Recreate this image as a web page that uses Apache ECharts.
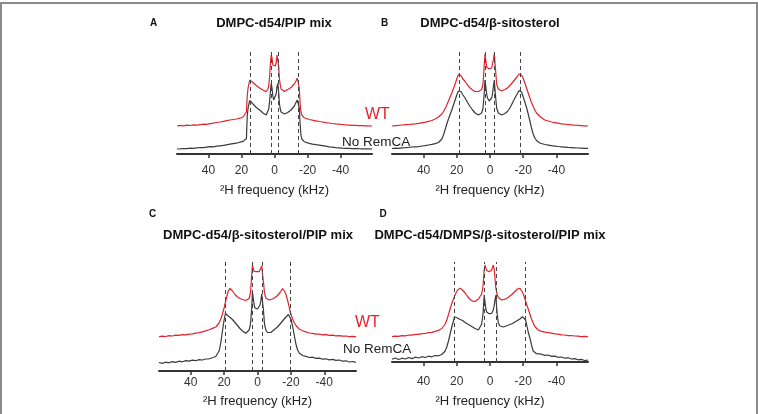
<!DOCTYPE html>
<html>
<head>
<meta charset="utf-8">
<script src="https://cdn.jsdelivr.net/npm/echarts@6/dist/echarts.min.js"></script>
<style>
  html, body { margin: 0; padding: 0; background: #fff; }
  #main { width: 758px; height: 414px; }
</style>
</head>
<body>
<div id="main"></div>
<script>
// 2H NMR spectra, WT vs No RemCA, four lipid mixes (A-D)
var ticks = [-40, -20, 0, 20, 40]

// panel A: DMPC-d54/PIP mix
var freqA = [59, 57, 55, 53, 51, 49, 47, 45, 43, 41, 39, 37, 35, 33, 31, 29, 27, 25, 23, 21,
  19, 18, 17, 16.5, 16, 15.5, 15, 14.6, 14, 13, 12, 11, 10, 9, 8, 7, 6, 5, 4, 3.5,
  3, 2.5, 2, 1.5, 1, 0.5, 0, -0.5, -1, -1.5, -2, -2.5, -3, -3.5, -4, -5, -6, -7, -8, -9,
  -10, -11, -12, -13, -13.8, -14.4, -15, -15.5, -16, -16.5, -17, -18, -19, -21, -23, -25, -27, -29, -31, -33,
  -35, -37, -39, -41, -43, -45, -47, -49, -51, -53, -55, -57, -59]
var noRemA = [5, 5.2, 5.5, 5.3, 5.8, 5.6, 6.2, 6.5, 6.4, 6.9, 7.3, 7.2, 7.8, 8.2, 8.6, 9.2, 9.8, 10.3, 10.8, 11.8,
  12.6, 13.5, 15.5, 38, 46, 50, 53.5, 55, 53, 50, 48, 46.5, 45, 44, 42.5, 41, 39.5, 39, 41, 45,
  52, 62, 70.5, 66, 58, 54, 53, 54, 60, 67, 70.5, 62, 50, 45, 42, 40.5, 40, 40.5, 41.5, 43,
  44, 45.5, 48, 51.5, 54, 52, 46, 30, 19, 15, 13.5, 12.3, 11.5, 10.6, 9.8, 9.3, 8.9, 8.4, 7.8, 7.2,
  6.8, 6.4, 6.2, 5.9, 5.7, 5.6, 5.4, 5.5, 5.3, 5.2, 5.1, 5.2, 5]
var wtA = [28, 28.6, 28.2, 28.8, 28.5, 29.2, 28.8, 29.4, 29.9, 29.6, 30.4, 30.8, 31.5, 32, 32.6, 33.3, 34, 34.5, 35, 35.8,
  37, 38.5, 42, 58, 66, 70, 74, 76, 74, 71.5, 70, 68.5, 67, 66, 65, 64, 62.5, 62.3, 65, 68,
  76, 90, 99, 96, 89, 88, 88.5, 88, 91, 99, 100, 88, 75, 69, 65, 63, 62.5, 63.3, 64.5, 65.5,
  66.5, 68, 70, 73, 76, 74, 66, 50, 42, 39, 37.5, 36.2, 35.5, 34.5, 33.8, 33.2, 32.5, 32, 31.4, 31,
  30.5, 30.1, 29.8, 29.5, 29.1, 28.9, 28.6, 28.7, 28.3, 28.4, 28.1, 28.2, 28]
var dashA = [14.6, 2, -2, -14.6]

// panel B: DMPC-d54/β-sitosterol
var freqB = [59, 57, 55, 53, 51, 49, 47, 45, 43, 41, 39, 37, 35, 33, 31, 30, 29, 28, 27, 26,
  25, 24, 23, 22, 21, 20, 19, 18.3, 17.5, 16.5, 15, 13.5, 12, 10.5, 9, 8, 7, 6, 5, 4.2,
  3.5, 3, 2.5, 2, 1.5, 1, 0.5, 0, -0.5, -1, -1.5, -2, -2.6, -3.2, -4, -5, -6, -7, -8, -9,
  -10.5, -12, -13.5, -15, -16.5, -17.5, -18.2, -19, -20, -21, -22, -23, -24, -25, -26, -27, -28, -29, -30, -31,
  -33, -35, -37, -39, -41, -43, -45, -47, -49, -51, -53, -55, -57, -59]
var noRemB = [5.5, 5.8, 5.6, 6.1, 6.3, 6.6, 7, 7.2, 7.4, 8, 8.4, 9, 9.6, 10.4, 11.5, 12.8, 15, 19, 24.5, 30,
  35, 39.5, 44, 49, 54, 59, 63, 64.5, 62.5, 59.5, 56, 51.5, 47.5, 44, 41, 39.5, 39, 39.5, 41, 46,
  60, 74, 67, 60, 56, 54, 53, 53, 54, 56, 60, 67, 74, 60, 46, 41, 39.5, 39, 39.5, 40.5,
  42.5, 46, 51, 56, 60.5, 63.5, 64.5, 62, 57, 52, 46.5, 40, 33, 26, 20, 16, 13.5, 12, 11, 10.3,
  9.5, 8.9, 8.3, 7.9, 7.5, 7.2, 6.9, 6.6, 6.4, 6.2, 6, 5.9, 5.7, 5.6]
var wtB = [28, 28.4, 28.6, 29, 29.3, 29.5, 29.9, 30.2, 30.6, 31.2, 31.8, 32.6, 33.5, 35, 37, 38.5, 40, 42.5, 45.5, 49,
  53, 57, 61, 65.5, 70, 75, 79.5, 80.7, 78.5, 75.5, 72.5, 69, 66, 64, 62.5, 62, 62.5, 63, 64.5, 70,
  88, 100, 93, 87, 85.5, 85, 85, 85.5, 85.5, 86, 88, 94, 100.5, 87, 70, 65, 63.5, 63, 63.5, 64.5,
  66, 68.5, 71.5, 74.5, 77.5, 80, 80.7, 79, 75.5, 71, 66, 61, 56, 51.5, 47.5, 44, 41, 39, 37.5, 36,
  34, 33, 32, 31.4, 30.8, 30.2, 29.8, 29.5, 29.1, 28.8, 28.6, 28.4, 28.2, 28]
var dashB = [18.3, 3, -2.6, -18.2]

// panel C: DMPC-d54/β-sitosterol/PIP mix
var freqC = [59, 57, 55, 53, 51, 49, 47, 45, 43, 41, 39, 37, 35, 33, 31, 29, 27, 25, 24, 23,
  22, 21, 20, 19.2, 18.5, 17.5, 16.5, 15, 13.5, 12, 10.5, 9, 8, 7, 6, 5, 4.2, 3.5, 3, 2.5,
  2, 1.5, 1, 0.5, 0, -0.5, -1, -1.5, -2, -2.5, -3, -3.5, -4.2, -5, -6, -7, -8, -9, -10.5, -12,
  -13.5, -15, -16.5, -17.5, -18.5, -19.2, -20, -21, -22, -23, -24, -25, -27, -29, -31, -33, -35, -37, -39, -41,
  -43, -45, -47, -49, -51, -53, -55, -57, -59]
var noRemC = [8.5, 7.6, 8.8, 8.2, 9.4, 8.6, 9.8, 9.2, 10.4, 9.9, 10.9, 10.3, 11.4, 11, 12, 12.2, 13.2, 14.5, 16, 20,
  28, 40, 51, 57.5, 57, 55, 53.5, 51.5, 48.5, 45.5, 42.5, 40, 38.5, 37.8, 38.5, 41, 47, 62, 79, 72,
  66, 63, 62, 62, 62, 62.5, 63.5, 66, 70, 77, 79, 62, 47, 41, 38.5, 37.8, 38.5, 40, 42, 44,
  47, 50, 53, 55, 56.5, 56, 52, 45, 36, 27, 21, 18, 15.5, 14.6, 13.5, 13.8, 12.6, 12.9, 11.8, 12.2,
  11.1, 11.6, 10.6, 11, 9.8, 10.2, 9, 9.5, 8.6]
var wtC = [34.3, 34.9, 34.5, 35.3, 35, 35.8, 35.6, 36.3, 36.1, 36.9, 37.1, 37.9, 38.3, 39.2, 40.1, 41.2, 42.6, 44, 45.5, 48,
  52, 57, 63, 69, 74, 80, 82.7, 80, 76.5, 74, 72.5, 71.5, 71, 70.5, 71, 72.5, 78, 95, 106, 102,
  99.5, 99, 99.5, 99.3, 99, 99.5, 99.3, 99.5, 101, 105, 103, 90, 78, 73, 71.5, 71, 71.5, 72, 73.5, 75.5,
  78.5, 82.5, 79, 74, 67.5, 62, 57, 52, 48.5, 45.5, 43.5, 42, 40.3, 39.1, 38, 37.6, 36.9, 37, 36.2, 36.4,
  35.7, 35.9, 35.2, 35.4, 34.8, 35, 34.4, 34.6, 34.3]
var dashC = [19.5, 3, -2.7, -19.5]

// panel D: DMPC-d54/DMPS/β-sitosterol/PIP mix
var freqD = [59, 57, 55, 53, 51, 49, 47, 45, 43, 41, 39, 37, 35, 33, 31, 29, 28, 27, 26, 25,
  24, 23, 22, 21.4, 20.5, 19.5, 18, 16.5, 15, 13.5, 12, 10.5, 9, 8, 7, 6, 5, 4.2, 3.5, 3,
  2.5, 2, 1.5, 1, 0.5, 0, -0.5, -1, -1.5, -2, -2.5, -3, -3.5, -4.2, -5, -6, -7, -8, -9, -10.5,
  -12, -13.5, -15, -16.5, -18, -19.5, -20.5, -21.4, -22, -23, -24, -25, -26, -27, -28, -29, -31, -33, -35, -37,
  -39, -41, -43, -45, -47, -49, -51, -53, -55, -57, -59]
var noRemD = [2.7, 4, 2.5, 3.8, 3, 4.5, 3.4, 4.8, 4, 5.3, 4.5, 5.8, 5.2, 6.5, 6.2, 7.5, 8.5, 11, 15, 21,
  28, 35, 41, 45, 45.5, 44, 42.5, 41.5, 39.5, 38, 36.5, 35, 33.5, 32.5, 32, 33.5, 38, 48, 67, 60,
  53, 50, 48.7, 48.5, 48.3, 48.5, 48.3, 48.7, 50, 52, 56, 62, 67, 50, 39, 36, 35.3, 35, 35.5, 36.5,
  37.5, 38.5, 40, 41.5, 43, 45.3, 45, 42, 38, 30, 24, 17, 11, 9, 8.3, 7.5, 7.8, 6.6, 7, 5.6,
  5.9, 4.7, 5, 3.8, 4.2, 3, 3.4, 2.2, 2.6, 1.5, 1.8]
var wtD = [25.3, 25.9, 25.6, 26.4, 26.2, 27, 26.9, 27.7, 27.6, 28.4, 28.5, 29.3, 29.6, 30.6, 31.6, 33.5, 35, 38, 42, 47.5,
  53, 58.5, 63, 65.5, 69, 72, 73.7, 72, 69, 65.5, 62.5, 60.8, 60.5, 61.5, 63, 65, 68, 76, 92, 97,
  94, 91.5, 90.5, 90.3, 90.3, 90.5, 91, 92, 94.5, 97, 93, 84, 74, 68, 64.5, 62.5, 62, 62, 62.8, 64,
  66, 68, 70.5, 73, 73.7, 70, 66, 61, 58, 53, 48, 43, 39, 35.5, 33.5, 32, 30.6, 29.9, 29.3, 28.8,
  28.1, 27.9, 27.2, 27, 26.4, 26.5, 26, 25.8, 25.4, 25.6, 25.3]
var dashD = [21.4, 3.5, -3.5, -21.4]

var titles = ['DMPC-d54/PIP mix', 'DMPC-d54/β-sitosterol', 'DMPC-d54/β-sitosterol/PIP mix', 'DMPC-d54/DMPS/β-sitosterol/PIP mix']
var letters = ['A', 'B', 'C', 'D']

var font = "'Liberation Sans', Arial, sans-serif"
var red = '#e3232b'
var black = '#3a3a3a'

function pts (freq, vals) {
  return freq.map(function (f, i) { return [f, vals[i]] })
}

// panel boxes in px: left, right, axis line y, label margin, name gap
var panels = [
  { left: 177, right: 386, axisY: 154, margin: 11, nameGap: 30, dash: dashA, dashTop: 105, freq: freqA, wt: wtA, no: noRemA },
  { left: 392, right: 170, axisY: 154, margin: 11, nameGap: 30, dash: dashB, dashTop: 105, freq: freqB, wt: wtB, no: noRemB },
  { left: 159, right: 402, axisY: 371, margin: 6, nameGap: 24, dash: dashC, dashTop: 109, freq: freqC, wt: wtC, no: noRemC },
  { left: 392, right: 170, axisY: 362, margin: 14, nameGap: 33, dash: dashD, dashTop: 100, freq: freqD, wt: wtD, no: noRemD }
]

var grid = [], xAxis = [], yAxis = [], series = []
panels.forEach(function (p, i) {
  grid.push({ left: p.left, right: p.right, top: p.axisY - 120, height: 120 })
  xAxis.push({
    gridIndex: i, type: 'value', inverse: true, min: -59, max: 59,
    axisLine: { lineStyle: { color: '#333', width: 2 } },
    axisTick: { customValues: ticks, length: 4, lineStyle: { color: '#333', width: 1.5 } },
    axisLabel: { customValues: ticks, margin: p.margin, color: '#333', fontSize: 12, fontFamily: font },
    splitLine: { show: false },
    name: '²H frequency (kHz)', nameLocation: 'middle', nameGap: p.nameGap,
    nameTextStyle: { fontSize: 13, color: '#222', fontFamily: font }
  })
  yAxis.push({ gridIndex: i, type: 'value', min: 0, max: 120, show: false })
  series.push({
    type: 'line', xAxisIndex: i, yAxisIndex: i, data: pts(p.freq, p.no),
    symbol: 'none', lineStyle: { color: black, width: 1.2 },
    markLine: {
      silent: true, symbol: 'none', label: { show: false },
      lineStyle: { type: [4, 3], color: '#444', width: 1 },
      data: p.dash.map(function (d) { return [{ coord: [d, 0] }, { coord: [d, p.dashTop] }] })
    }
  })
  series.push({
    type: 'line', xAxisIndex: i, yAxisIndex: i, data: pts(p.freq, p.wt),
    symbol: 'none', lineStyle: { color: red, width: 1.2 }
  })
})

var headPos = [[153.5, 23, 274, 23], [384.5, 23, 490, 23], [152.5, 214, 258, 235], [383, 214, 490, 235]]
var graphic = [{
  type: 'rect', shape: { x: 1, y: 3, width: 756, height: 420 },
  style: { fill: 'none', stroke: '#8a8a8a', lineWidth: 2 }
}]
headPos.forEach(function (h, i) {
  graphic.push({ type: 'text', x: h[0], y: h[1], style: { text: letters[i], font: 'bold 10px ' + font, fill: '#111', textAlign: 'center', textVerticalAlign: 'middle' } })
  graphic.push({ type: 'text', x: h[2], y: h[3], style: { text: titles[i], font: 'bold 13px ' + font, fill: '#111', textAlign: 'center', textVerticalAlign: 'middle' } })
})
// series labels
graphic.push({ type: 'text', x: 365, y: 115, style: { text: 'WT', font: '16px ' + font, fill: red, textVerticalAlign: 'middle' } })
graphic.push({ type: 'text', x: 342, y: 142, style: { text: 'No RemCA', font: '13.5px ' + font, fill: '#222', textVerticalAlign: 'middle' } })
graphic.push({ type: 'text', x: 355, y: 323, style: { text: 'WT', font: '16px ' + font, fill: red, textVerticalAlign: 'middle' } })
graphic.push({ type: 'text', x: 343, y: 349, style: { text: 'No RemCA', font: '13.5px ' + font, fill: '#222', textVerticalAlign: 'middle' } })

var myChart = echarts.init(document.getElementById('main'))
myChart.setOption({
  animation: false,
  grid: grid,
  xAxis: xAxis,
  yAxis: yAxis,
  series: series,
  graphic: graphic
})
window.addEventListener('resize', function () {
  myChart.resize()
})
</script>
</body>
</html>
